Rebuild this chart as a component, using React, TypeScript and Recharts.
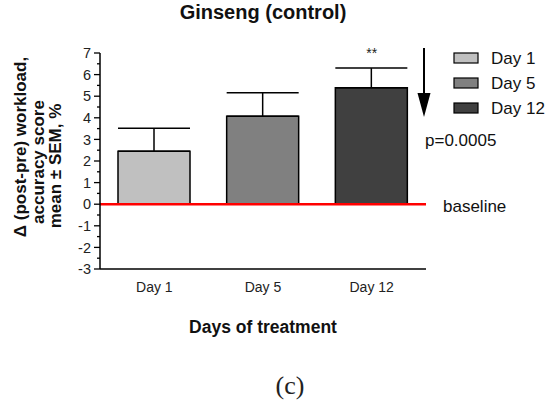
import { Bar, BarChart, Cell, ErrorBar, ReferenceDot, ReferenceLine, XAxis, YAxis } from "recharts";

const days = ["Day 1", "Day 5", "Day 12"];
const means = [2.45, 4.07, 5.39];
const sems = [1.07, 1.09, 0.91];
const fills = ["#c0c0c0", "#808080", "#404040"];
const yTicks = [-3, -2.5, -2, -1.5, -1, -0.5, 0, 0.5, 1, 1.5, 2, 2.5, 3, 3.5, 4, 4.5, 5, 5.5, 6, 6.5, 7];
const sigMark = { day: "Day 12", y: 7, text: "**" };
const yLabelLines = ["\u0394 (post-pre) workload,", "accuracy score", "mean \u00b1 SEM, %"];

const data = days.map((day, i) => ({ day, mean: means[i], err: [0, sems[i]] }));

const FONT = "'Liberation Sans', Arial, sans-serif";
const TICK_SIZE = 6;
const TICK_MARGIN = 3;

function YTick(props: any) {
  const { x, y, payload } = props;
  const v = payload.value as number;
  const major = Number.isInteger(v);
  const ax = x + TICK_SIZE + TICK_MARGIN;
  return (
    <g>
      <line x1={ax - (major ? 6 : 3)} x2={ax} y1={y} y2={y} stroke="#000" strokeWidth={1.3} />
      {major && (
        <text x={ax - 9} y={y} dy="0.36em" textAnchor="end" fontSize={14.5} fill="#222" fontFamily={FONT}>
          {v}
        </text>
      )}
    </g>
  );
}

export default function App() {
  return (
    <div style={{ position: "absolute", left: 0, top: 0, width: 550, height: 411, background: "#fff", fontFamily: FONT }}>
      <BarChart width={550} height={411} data={data} margin={{ top: 53, right: 124, bottom: 112, left: 60 }}>
        <XAxis
          dataKey="day"
          height={30}
          tickLine={false}
          axisLine={{ stroke: "#000", strokeWidth: 1.5 }}
          tick={{ fontSize: 14, fill: "#222", fontFamily: FONT }}
          tickMargin={7}
        />
        <YAxis
          domain={[-3, 7]}
          ticks={yTicks}
          interval={0}
          width={40}
          tickLine={false}
          tickSize={TICK_SIZE}
          tickMargin={TICK_MARGIN}
          axisLine={{ stroke: "#000", strokeWidth: 1.5 }}
          tick={<YTick />}
        />
        <Bar dataKey="mean" barSize={72} stroke="#000" strokeWidth={1.5} isAnimationActive={false}>
          {data.map((d, i) => (
            <Cell key={d.day} fill={fills[i]} />
          ))}
          <ErrorBar dataKey="err" width={36} stroke="#000" strokeWidth={1.5} direction="y" isAnimationActive={false} />
        </Bar>
        <ReferenceLine y={0} stroke="#ff0000" strokeWidth={2.5} />
        <ReferenceDot
          x={sigMark.day}
          y={sigMark.y}
          r={0}
          ifOverflow="visible"
          label={{ value: sigMark.text, position: "center", fontSize: 14, fill: "#222" }}
        />
      </BarChart>
      <svg width={550} height={411} style={{ position: "absolute", left: 0, top: 0, pointerEvents: "none" }}>
        <text x={263} y={12} dy="0.36em" textAnchor="middle" fontSize={20} fontWeight="bold" fill="#111" fontFamily={FONT}>
          Ginseng (control)
        </text>
        <text transform="translate(20,147) rotate(-90)" dy="0.36em" textAnchor="middle" fontSize={17} fontWeight="bold" fill="#111" fontFamily={FONT}>
          {yLabelLines[0]}
        </text>
        <text transform="translate(38,162) rotate(-90)" dy="0.36em" textAnchor="middle" fontSize={17} fontWeight="bold" fill="#111" fontFamily={FONT}>
          {yLabelLines[1]}
        </text>
        <text transform="translate(55,166) rotate(-90)" dy="0.36em" textAnchor="middle" fontSize={17} fontWeight="bold" fill="#111" fontFamily={FONT}>
          {yLabelLines[2]}
        </text>
        <text x={263} y={327} dy="0.36em" textAnchor="middle" fontSize={17.5} fontWeight="bold" fill="#111" fontFamily={FONT}>
          Days of treatment
        </text>
        <line x1={424} y1={48} x2={424} y2={100} stroke="#000" strokeWidth={2} />
        <polygon points="417.5,93 430.5,93 424,117" fill="#000" />
        {days.map((d, i) => (
          <g key={d}>
            <rect x={454} y={53 + i * 25} width={24} height={10} fill={fills[i]} stroke="#000" strokeWidth={1.2} />
            <text x={491} y={58 + i * 25} dy="0.36em" fontSize={17} fill="#111" fontFamily={FONT}>
              {d}
            </text>
          </g>
        ))}
        <text x={425} y={140} dy="0.36em" fontSize={17} fill="#111" fontFamily={FONT}>
          p=0.0005
        </text>
        <text x={443} y={206} dy="0.36em" fontSize={17} fill="#111" fontFamily={FONT}>
          baseline
        </text>
        <text x={290} y={385} dy="0.36em" textAnchor="middle" fontSize={26} fill="#222" fontFamily="'Liberation Serif', 'Times New Roman', serif">
          (c)
        </text>
      </svg>
    </div>
  );
}
